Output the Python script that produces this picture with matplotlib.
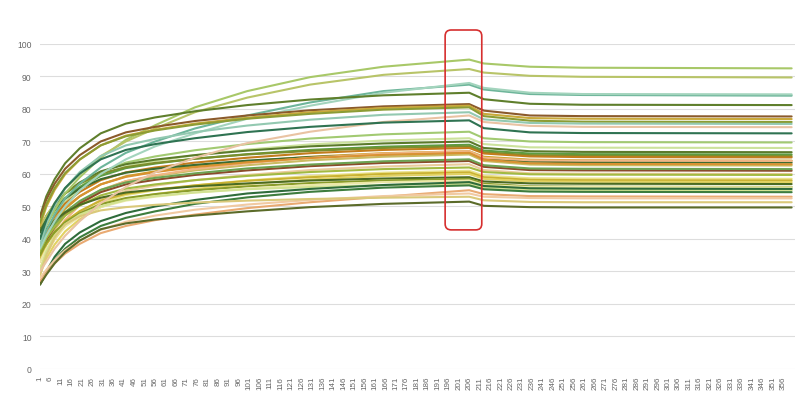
import matplotlib
matplotlib.use("Agg")
import matplotlib.pyplot as plt
from matplotlib.patches import FancyBboxPatch

plt.rcParams["font.family"] = ["Liberation Sans", "DejaVu Sans"]

DAYS = [1, 4, 8, 13, 20, 30, 42, 56, 75, 100, 130, 165, 206, 213, 235, 260, 360]

# upper group (peaks above ~75)
TOP_LINES = [
    [40, 44, 49, 54, 59, 65, 70.5, 75, 80.5, 85.5, 89.8, 93, 95.2, 94, 93, 92.7, 92.5],
    [44, 47, 51, 55.5, 60, 65.5, 70, 74, 79, 83.5, 87.5, 90.5, 92.3, 91.2, 90.2, 89.9, 89.7],
    [38, 42.5, 47.5, 52.5, 57, 62, 66.5, 70, 74, 78, 82, 85.5, 87.5, 86, 84.6, 84.3, 84.1],
    [37, 41, 45.5, 50, 55, 60, 64.5, 68.5, 72.5, 77, 81, 85, 88, 86.5, 85, 84.6, 84.5],
    [47, 53.1, 58.4, 63.3, 67.9, 72.5, 75.5, 77.4, 79.3, 81.2, 82.9, 84.2, 85, 83, 81.6, 81.3, 81.2],
    [46.5, 52.1, 57, 61.6, 65.8, 70, 72.8, 74.5, 76.3, 78, 79.6, 80.8, 81.5, 79.5, 78, 77.8, 77.7],
    [44, 49.9, 55.1, 59.9, 64.4, 68.8, 71.8, 73.6, 75.5, 77.3, 79, 80.3, 81, 78.5, 77.2, 77, 76.9],
    [45, 50.7, 55.7, 60.3, 64.5, 68.8, 71.6, 73.4, 75.2, 77, 78.5, 79.8, 80.5, 77.8, 76.4, 76.1, 76],
    [38, 44.6, 50.3, 55.6, 60.6, 65.5, 68.8, 70.8, 72.9, 74.9, 76.7, 78.2, 79, 76.8, 75.7, 75.5, 75.4],
    [30, 33, 37, 41, 45.5, 51, 56, 60.5, 65, 69.5, 73, 76, 78, 76, 74.8, 74.5, 74.4],
    [40, 45.8, 51, 55.7, 60.1, 64.5, 67.4, 69.2, 71, 72.9, 74.5, 75.8, 76.5, 74.1, 72.8, 72.6, 72.5],
]
TOP_COLORS = ["#a8c868", "#b8c468", "#6db59a", "#a3d4bd", "#5f7f2c", "#8b5a2b",
              "#c9a93a", "#8c9c34", "#93c9b1", "#e9c3a3", "#2f7352"]

# middle group (peaks ~60-75)
MID_LINES = [
    [35, 41.1, 46.4, 51.3, 55.9, 60.5, 63.5, 65.4, 67.3, 69.2, 70.9, 72.2, 73, 71, 70, 69.8, 69.7],
    [36, 41.6, 46.5, 51.1, 55.3, 59.5, 62.3, 64, 65.8, 67.5, 69.1, 70.3, 71, 69.2, 68.2, 68.1, 68],
    [42, 46.5, 50.4, 54, 57.4, 60.8, 63, 64.4, 65.8, 67.2, 68.5, 69.4, 70, 68, 67, 66.8, 66.7],
    [40, 44.6, 48.7, 52.5, 56, 59.4, 61.8, 63.2, 64.7, 66.1, 67.4, 68.4, 69, 67.2, 66.3, 66.1, 66],
    [43, 47.1, 50.7, 54, 57, 60.1, 62.1, 63.4, 64.7, 66, 67.1, 68, 68.5, 66.7, 65.8, 65.6, 65.5],
    [38, 42.8, 47, 50.9, 54.5, 58.1, 60.5, 62, 63.5, 65, 66.4, 67.4, 68, 66.3, 65.4, 65.2, 65.1],
    [36, 41, 45.3, 49.3, 53.1, 56.8, 59.3, 60.8, 62.4, 63.9, 65.3, 66.4, 67, 65.3, 64.4, 64.2, 64.1],
    [42, 45.9, 49.4, 52.5, 55.5, 58.4, 60.4, 61.6, 62.8, 64.1, 65.2, 66, 66.5, 64.7, 63.8, 63.6, 63.5],
    [33, 38.3, 42.9, 47.2, 51.2, 55.1, 57.8, 59.4, 61.1, 62.7, 64.2, 65.3, 66, 64, 62.9, 62.7, 62.6],
    [30, 35.9, 41.1, 45.9, 50.4, 54.8, 57.8, 59.6, 61.5, 63.3, 65, 66.3, 67, 65, 64.2, 64.1, 64],
    [37, 41.7, 45.9, 49.7, 53.2, 56.8, 59.1, 60.6, 62.1, 63.6, 64.9, 65.9, 66.5, 64.4, 63.3, 63.1, 63],
    [35, 39.6, 43.7, 47.5, 51, 54.4, 56.8, 58.2, 59.7, 61.1, 62.4, 63.4, 64, 62.2, 61.2, 61.1, 61],
    [36, 40.6, 44.6, 48.3, 51.7, 55.1, 57.4, 58.8, 60.2, 61.7, 62.9, 63.9, 64.5, 62.7, 61.7, 61.6, 61.5],
    [30, 35.3, 39.9, 44.2, 48.2, 52.1, 54.8, 56.4, 58.1, 59.7, 61.2, 62.3, 63, 61.2, 60.2, 60.1, 60],
    [36, 40.2, 43.8, 47.2, 50.3, 53.4, 55.5, 56.8, 58.1, 59.4, 60.6, 61.5, 62, 60.6, 59.9, 59.8, 59.7],
]
MID_COLORS = ["#a2ca72", "#cce29c", "#5b7b2b", "#5c9c42", "#7c8e2c", "#c27c1c",
              "#caa222", "#3b6b31", "#cabb62", "#f0b585", "#d99232", "#8b4b2b",
              "#6ca252", "#eacb9b", "#a2ba42"]

# lower group (peaks below ~61)
LOW_LINES = [
    [31, 35.8, 40, 43.9, 47.5, 51.1, 53.5, 55, 56.5, 58, 59.4, 60.4, 61, 59.5, 58.7, 58.6, 58.5],
    [34, 38.2, 42, 45.4, 48.6, 51.8, 53.9, 55.2, 56.5, 57.9, 59, 60, 60.5, 59, 58.2, 58.1, 58],
    [29, 34, 38.3, 42.3, 46.1, 49.8, 52.3, 53.8, 55.4, 56.9, 58.3, 59.4, 60, 58.5, 57.7, 57.6, 57.5],
    [40, 43, 45.7, 48.2, 50.5, 52.7, 54.3, 55.2, 56.2, 57.1, 58, 58.6, 59, 57.7, 57.1, 57, 56.9],
    [35, 38.8, 42.1, 45.1, 47.9, 50.7, 52.6, 53.8, 55, 56.2, 57.2, 58, 58.5, 57, 56.2, 56.1, 56],
    [33, 37, 40.5, 43.8, 46.8, 49.8, 51.8, 53, 54.3, 55.5, 56.6, 57.5, 58, 56.6, 56, 56, 55.9],
    [30, 36, 41, 44.5, 47.5, 50, 52, 53.2, 54.3, 55.3, 56, 56.6, 57, 55.8, 55.2, 55.1, 55],
    [26, 30, 34.5, 38.5, 42, 45.5, 48, 50, 52, 54, 55.4, 56.6, 57.5, 56.3, 55.6, 55.5, 55.4],
    [26, 29.5, 33.5, 37, 40.5, 44, 46.5, 48.5, 50.8, 52.8, 54.5, 55.8, 56.5, 55.3, 54.6, 54.5, 54.4],
    [27, 29.5, 32.5, 35.5, 38.5, 41.8, 44, 45.8, 47.5, 49.5, 51.3, 53, 55, 53.8, 53.2, 53.1, 53],
    [28, 30.5, 33.5, 36.5, 39.5, 42.8, 45.3, 47.2, 49, 50.6, 52, 53.2, 54, 53, 52.6, 52.5, 52.5],
    [29, 35, 40.5, 44.5, 47, 48.8, 49.8, 50.5, 51.2, 51.8, 52.3, 52.7, 53, 51.9, 51.4, 51.3, 51.3],
    [26, 29, 32.5, 36, 39.5, 43, 44.8, 46, 47.2, 48.5, 49.8, 50.8, 51.5, 50.2, 49.8, 49.7, 49.7],
]
LOW_COLORS = ["#eae28a", "#cab232", "#e2d262", "#4b6b21", "#8a9c2a", "#ece8a8",
              "#d2e292", "#2f6c3b", "#3d7d3d", "#e9aa72", "#f1caa2", "#dac97a",
              "#5b6b29"]

TICK_DAYS = list(range(1, 357, 5))

# highlighted window (data coords)
BOX_X = (194.5, 212)
BOX_Y = (42.8, 104.3)


def main():
    fig = plt.figure(figsize=(8, 4.1), dpi=100)
    ax = fig.add_axes([0.05, 0.0976, 0.944, 0.7927])

    for lines, colors in [(MID_LINES, MID_COLORS), (LOW_LINES, LOW_COLORS),
                          (TOP_LINES, TOP_COLORS)]:
        for vals, c in zip(lines, colors):
            ax.plot(DAYS, vals, color=c, lw=1.5, solid_capstyle="round",
                    solid_joinstyle="round")

    ax.set_xlim(1, 361.7)
    ax.set_ylim(0, 100)
    ax.set_yticks(range(0, 101, 10))
    ax.set_xticks(TICK_DAYS)
    ax.set_xticklabels([str(d) for d in TICK_DAYS], rotation=90)
    ax.tick_params(axis="x", length=0, pad=5, labelsize=5.8, colors="#666666")
    ax.tick_params(axis="y", length=0, pad=6, labelsize=6.2, colors="#666666")
    ax.grid(axis="y", color="#dddddd", lw=0.8)
    ax.set_axisbelow(True)
    for s in ax.spines.values():
        s.set_visible(False)

    box = FancyBboxPatch((BOX_X[0], BOX_Y[0]), BOX_X[1] - BOX_X[0],
                         BOX_Y[1] - BOX_Y[0],
                         boxstyle="round,pad=0,rounding_size=2.9",
                         mutation_aspect=0.64, transform=ax.transData,
                         fill=False, edgecolor="#d62f2f", lw=1.2,
                         clip_on=False, zorder=5)
    ax.add_patch(box)

    fig.savefig("out.png", dpi=100, facecolor="white")
    plt.close(fig)


if __name__ == "__main__":
    main()
